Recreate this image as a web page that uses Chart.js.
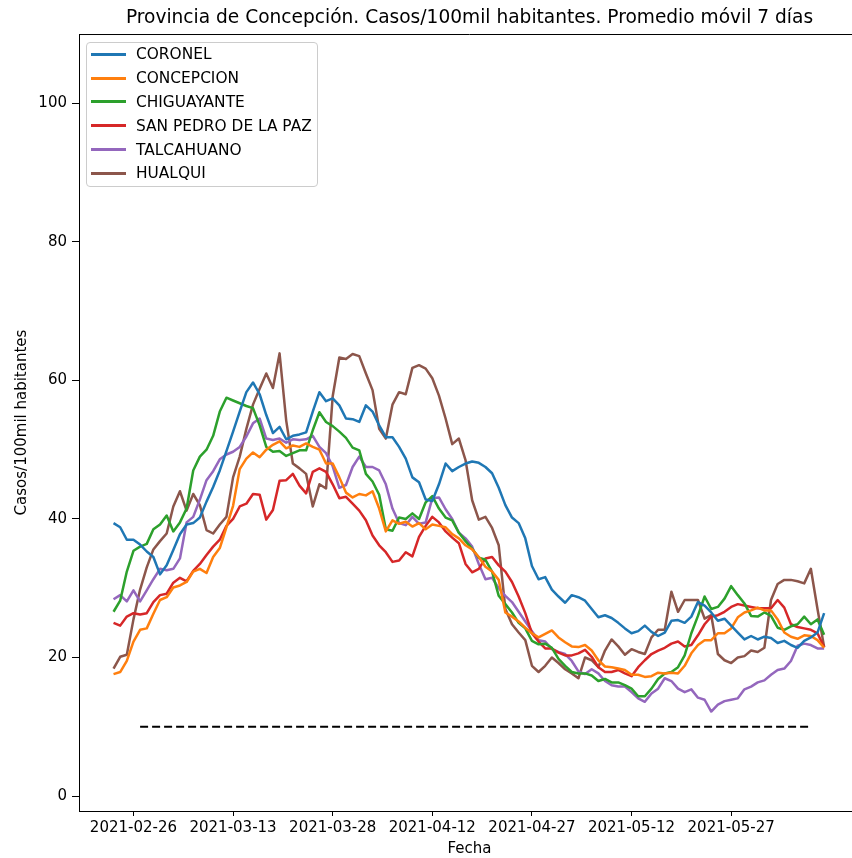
<!DOCTYPE html>
<html>
<head>
<meta charset="utf-8">
<script src="https://cdn.jsdelivr.net/npm/chart.js@4.4.0/dist/chart.umd.min.js"></script>
<style>
  html, body { margin: 0; padding: 0; background: #fff; overflow: hidden; }
  #wrap { position: relative; width: 880px; height: 858px; }
  #legend {
    position: absolute; left: 86px; top: 42px; width: 232px; height: 145px;
    box-sizing: border-box; border: 1px solid #cccccc; border-radius: 4px;
    background: rgba(255, 255, 255, 0.8);
    font: 15.4px "DejaVu Sans", sans-serif; color: #000;
  }
  #legend .item { position: absolute; left: 0; height: 24px; line-height: 24px; white-space: nowrap; }
  #legend .swatch { position: absolute; left: 4px; top: 10.5px; width: 35px; height: 3px; }
  #legend .label { position: absolute; left: 49px; top: 0; }
</style>
</head>
<body>
<div id="wrap">
  <canvas id="canvas" width="880" height="858"></canvas>
  <div id="legend"></div>
</div>
<script>
// Data: 7-day moving average of cases per 100k, one value per day from startDate
const startDate = "2021-02-23";
const tickDates = ["2021-02-26", "2021-03-13", "2021-03-28", "2021-04-12", "2021-04-27", "2021-05-12", "2021-05-27"];
const yTicks = [0, 20, 40, 60, 80, 100];

const comunas = ["CORONEL", "CONCEPCION", "CHIGUAYANTE", "SAN PEDRO DE LA PAZ", "TALCAHUANO", "HUALQUI"];

const coronel = [
  39.4, 38.8, 37.0, 37.0, 36.3, 35.3, 34.5, 32.0, 33.3, 35.5,
  37.8, 39.2, 39.4, 40.2, 42.5, 44.6, 47.0, 49.8, 52.6, 55.5,
  58.3, 59.7, 58.0, 55.0, 52.4, 53.3, 51.5, 52.0, 52.2, 52.5,
  55.5, 58.3, 57.0, 57.4, 56.4, 54.5, 54.4, 54.0, 56.4, 55.5,
  53.5, 51.8, 51.8, 50.4, 48.7, 46.0, 45.3, 42.8, 42.6, 45.0,
  48.0, 46.9, 47.5, 48.0, 48.3, 48.1, 47.5, 46.6, 44.5, 42.0,
  40.2, 39.4, 37.2, 33.2, 31.3, 31.6, 29.8, 28.8, 27.9, 29.0,
  28.7, 28.2, 27.0, 25.8, 26.1, 25.7, 25.0, 24.2, 23.5, 23.8,
  24.6, 23.7, 23.1, 23.6, 25.3, 25.4, 25.0, 25.9, 28.0, 27.5,
  26.5, 25.3, 25.6, 24.6, 23.6, 22.6, 23.1, 22.6, 23.0, 22.8,
  22.1, 22.4, 21.8, 21.4, 22.4, 22.9, 23.6, 26.4
];
const concepcion = [
  17.6, 17.9, 19.5, 22.3, 24.0, 24.2, 26.3, 28.3, 28.7, 30.1,
  30.4, 30.9, 32.4, 32.8, 32.2, 34.5, 35.8, 38.8, 41.9, 47.2,
  48.7, 49.6, 48.9, 50.0, 50.7, 51.2, 50.2, 50.6, 50.4, 50.9,
  50.4, 50.0, 48.0, 48.0, 46.0, 43.8, 43.1, 43.6, 43.4, 44.0,
  41.5, 38.2, 39.8, 39.3, 39.6, 38.9, 39.4, 38.5, 39.2, 39.0,
  38.8, 37.8, 37.2, 36.2, 35.6, 34.5, 33.1, 32.4, 31.2, 26.5,
  25.9, 25.2, 24.3, 23.5, 22.9, 23.4, 23.9, 22.9, 22.2, 21.6,
  21.5, 21.8, 21.0, 19.6, 18.7, 18.6, 18.4, 18.2, 17.5, 17.5,
  17.2, 17.3, 17.8, 17.7, 17.8, 17.7, 18.8, 20.6, 21.8, 22.5,
  22.5, 23.5, 23.5, 24.2, 25.8, 26.5, 26.8, 27.2, 26.8, 26.8,
  25.5, 23.6, 23.0, 22.7, 23.2, 23.1, 22.5, 21.4
];
const chiguayante = [
  26.6, 28.2, 32.4, 35.4, 36.0, 36.4, 38.5, 39.2, 40.5, 38.2,
  39.5, 41.5, 47.0, 49.0, 50.0, 52.0, 55.5, 57.5, 57.1, 56.7,
  56.3, 56.0, 53.5, 50.4, 49.7, 49.8, 49.1, 49.5, 49.9, 49.9,
  52.8, 55.4, 54.0, 53.4, 52.6, 51.7, 50.3, 49.9, 46.5, 45.4,
  43.5, 38.5, 38.3, 40.2, 40.0, 40.8, 40.0, 42.4, 43.3, 41.5,
  40.2, 39.8, 38.0, 36.8, 35.7, 34.4, 34.1, 32.4, 28.9, 27.7,
  26.5, 25.0, 24.2, 22.4, 21.9, 22.0, 21.4, 19.8, 18.8, 17.9,
  17.7, 17.7, 17.4, 16.6, 16.9, 16.4, 16.4, 16.0, 15.5, 14.4,
  14.4, 15.5, 16.9, 17.7, 17.9, 18.6, 20.3, 23.5, 26.0, 28.8,
  27.0, 27.3, 28.5, 30.3, 29.0, 27.8, 26.0, 25.9, 26.5, 26.0,
  24.3, 24.0, 24.5, 24.8, 25.9, 24.8, 25.5, 23.3
];
const sanPedro = [
  25.0, 24.6, 25.9, 26.4, 26.2, 26.4, 28.0, 29.0, 29.2, 30.8,
  31.5, 31.0, 32.5, 33.5, 34.8, 36.0, 37.0, 39.0, 40.0, 41.8,
  42.2, 43.6, 43.5, 39.9, 41.3, 45.5, 45.6, 46.5, 44.8, 43.7,
  46.8, 47.3, 46.8, 45.0, 43.0, 43.2, 42.2, 41.2, 39.8, 37.6,
  36.2, 35.2, 33.8, 34.0, 35.2, 34.6, 37.4, 39.0, 40.3, 39.5,
  38.2, 37.3, 36.5, 33.5, 32.3, 32.8, 34.3, 34.5, 33.3, 32.4,
  30.9, 28.8, 26.4, 23.5, 22.3, 21.3, 21.3, 20.7, 20.3, 20.3,
  20.6, 21.1, 20.1, 18.6, 17.9, 17.9, 18.2, 17.7, 17.3, 18.6,
  19.6, 20.5, 21.0, 21.4, 22.0, 22.3, 21.6, 21.8, 23.2, 24.8,
  25.9, 26.1, 26.6, 27.3, 27.7, 27.5, 27.3, 27.1, 27.1, 27.1,
  28.3, 27.2, 24.8, 24.4, 24.2, 24.0, 23.5, 21.5
];
const talcahuano = [
  28.4, 29.0, 28.1, 29.7, 28.1, 29.7, 31.3, 32.8, 32.6, 32.8,
  34.3, 39.5, 40.3, 42.8, 45.6, 46.9, 48.6, 49.3, 49.7, 50.4,
  51.9, 53.8, 54.5, 51.6, 51.4, 51.6, 51.0, 51.5, 51.4, 51.5,
  52.0, 50.4, 49.5, 47.6, 44.5, 44.9, 47.5, 49.0, 47.5, 47.5,
  47.0, 45.0, 41.5, 39.4, 39.1, 40.3, 39.3, 39.5, 43.0, 43.1,
  41.4, 40.0, 38.0, 37.2, 36.0, 33.5, 31.3, 31.5, 30.0, 28.9,
  28.0, 26.6, 25.2, 23.8, 22.5, 22.3, 21.2, 20.8, 20.5, 19.5,
  18.0, 17.6, 18.3, 17.7, 16.6, 16.0, 15.8, 15.8, 15.0, 14.1,
  13.6, 14.8, 15.5, 17.0, 16.6, 15.5, 15.0, 15.4, 14.2, 13.9,
  12.2, 13.2, 13.7, 13.9, 14.1, 15.4, 15.8, 16.4, 16.7, 17.5,
  18.2, 18.4, 19.5, 21.7, 22.0, 21.8, 21.3, 21.3
];
const hualqui = [
  18.4, 20.1, 20.4, 25.5, 29.8, 33.0, 35.6, 36.8, 37.9, 41.8,
  44.0, 41.2, 43.6, 42.0, 38.4, 37.9, 39.2, 40.3, 46.0, 49.0,
  53.0, 56.5, 58.8, 61.0, 58.9, 63.9, 54.2, 48.0, 47.3, 46.5,
  41.8, 45.0, 44.4, 57.7, 63.3, 63.1, 63.8, 63.5, 61.0, 58.6,
  53.0, 51.6, 56.5, 58.3, 58.0, 61.8, 62.2, 61.7, 60.3, 57.8,
  54.5, 50.8, 51.6, 48.5, 42.7, 39.9, 40.3, 38.7, 36.2, 27.0,
  24.8, 23.6, 22.5, 18.8, 17.9, 18.8, 20.0, 19.2, 18.3, 17.7,
  17.0, 20.0, 19.6, 18.6, 21.0, 22.6, 21.6, 20.4, 21.2, 20.8,
  20.5, 22.9, 24.0, 24.0, 29.5, 26.6, 28.3, 28.3, 28.3, 25.6,
  26.1, 20.5, 19.6, 19.2, 20.0, 20.2, 21.0, 20.8, 21.4, 28.3,
  30.6, 31.2, 31.2, 31.0, 30.7, 32.8, 27.0, 21.5
];

const series = [coronel, concepcion, chiguayante, sanPedro, talcahuano, hualqui];
const colors = ["#1f77b4", "#ff7f0e", "#2ca02c", "#d62728", "#9467bd", "#8c564b"];

// reference line
const threshold = 10;
const thresholdFrom = "2021-02-27";
const thresholdTo = "2021-06-08";

const DAY = 86400000;
const FONT = "'DejaVu Sans', sans-serif";

function dayIndex(d) {
  return Math.round((Date.parse(d) - Date.parse(startDate)) / DAY);
}
function dateLabel(i) {
  return new Date(Date.parse(startDate) + i * DAY).toISOString().slice(0, 10);
}

let datasets = series.map((values, k) => ({
  label: comunas[k],
  data: values.map((v, i) => ({ x: i, y: v })),
  borderColor: colors[k],
  backgroundColor: colors[k],
  borderWidth: 2.5,
  borderJoinStyle: "round",
  pointRadius: 0,
  tension: 0
}));

datasets.push({
  label: "umbral",
  data: [
    { x: dayIndex(thresholdFrom), y: threshold },
    { x: dayIndex(thresholdTo), y: threshold }
  ],
  borderColor: "#000",
  borderWidth: 2,
  borderDash: [8, 4],
  pointRadius: 0
});

// top spine (right one is off the picture)
const frame = {
  id: "frame",
  afterDraw(chart) {
    const { ctx, chartArea } = chart;
    ctx.save();
    ctx.strokeStyle = "#000";
    ctx.lineWidth = 1;
    ctx.beginPath();
    ctx.moveTo(chartArea.left, chartArea.top + 0.5);
    ctx.lineTo(chartArea.right, chartArea.top + 0.5);
    ctx.stroke();
    ctx.restore();
  }
};

new Chart(document.getElementById("canvas"), {
  type: "line",
  data: { datasets: datasets },
  plugins: [frame],
  options: {
    responsive: false,
    animation: false,
    devicePixelRatio: 1,
    layout: { padding: { left: 0, right: 20, top: 0, bottom: 0 } },
    plugins: {
      legend: { display: false },
      tooltip: { enabled: false },
      title: {
        display: true,
        fullSize: false,
        text: "Provincia de Concepción. Casos/100mil habitantes. Promedio móvil 7 días",
        color: "#000",
        font: { family: FONT, size: 18.6, weight: "normal" },
        padding: { top: 7.5, bottom: 4.2 }
      }
    },
    scales: {
      x: {
        type: "linear",
        min: -5.2,
        max: 112.4,
        afterBuildTicks: scale => {
          scale.ticks = tickDates.map(d => ({ value: dayIndex(d) }));
        },
        afterFit: scale => { scale.height = 47; },
        ticks: {
          color: "#000",
          font: { family: FONT, size: 15 },
          padding: 3,
          maxRotation: 0,
          autoSkip: false,
          callback: v => dateLabel(v)
        },
        grid: { drawOnChartArea: false, drawTicks: true, tickLength: 5, color: "#000" },
        border: { display: true, color: "#000", width: 1 },
        title: {
          display: true,
          text: "Fecha",
          color: "#000",
          font: { family: FONT, size: 15 },
          padding: { top: 0, bottom: 0 }
        }
      },
      y: {
        min: -2.16,
        max: 110,
        afterBuildTicks: scale => {
          scale.ticks = yTicks.map(v => ({ value: v }));
        },
        afterFit: scale => { scale.width = 79; },
        ticks: {
          color: "#000",
          font: { family: FONT, size: 15 },
          padding: 5
        },
        grid: { drawOnChartArea: false, drawTicks: true, tickLength: 7, color: "#000" },
        border: { display: true, color: "#000", width: 1 },
        title: {
          display: true,
          text: "Casos/100mil habitantes",
          color: "#000",
          font: { family: FONT, size: 15 },
          padding: { top: 13, bottom: 0 }
        }
      }
    }
  }
});

// legend box, upper left inside the axes
const legend = document.getElementById("legend");
comunas.forEach((name, k) => {
  const item = document.createElement("div");
  item.className = "item";
  item.style.top = (k * 23.8 - 0.7) + "px";
  item.style.width = "100%";

  const swatch = document.createElement("div");
  swatch.className = "swatch";
  swatch.style.background = colors[k];
  item.appendChild(swatch);

  const label = document.createElement("div");
  label.className = "label";
  label.innerText = name;
  item.appendChild(label);

  legend.appendChild(item);
});
</script>
</body>
</html>
